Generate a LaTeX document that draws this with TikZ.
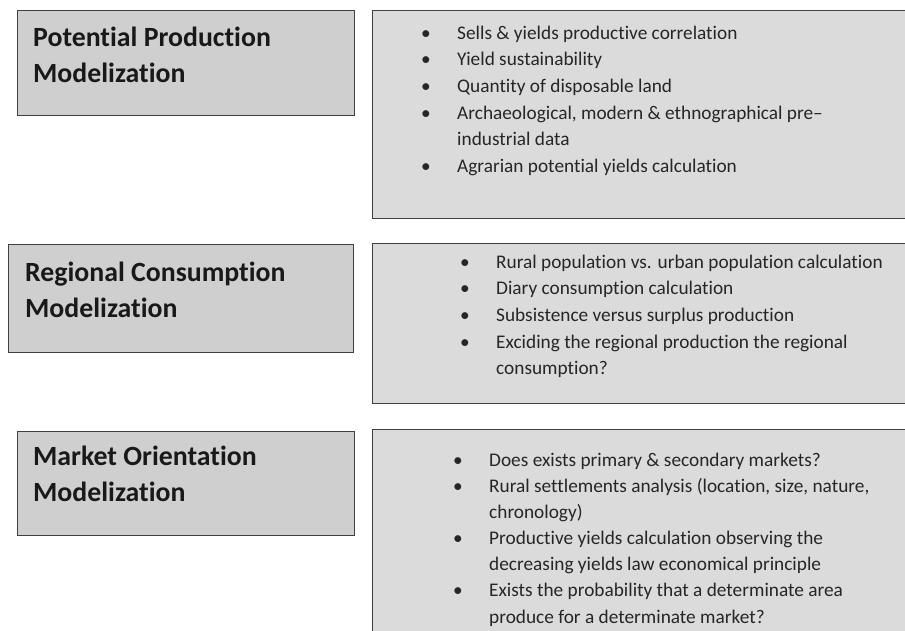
\documentclass[tikz,border=0pt]{standalone}
\usepackage{fontspec}
\setmainfont{Carlito}[Ligatures=NoCommon]
\usepackage{tikz}
\usetikzlibrary{positioning}

\newcommand{\bul}{\makebox[33pt][l]{\kern-3pt\textbullet}}

\begin{document}
\begin{tikzpicture}[x=1pt, y=-1pt,
    headbox/.style={draw=black!75, line width=1.3pt, fill=black!19, anchor=north west, inner sep=0pt},
    listbox/.style={draw=black!75, line width=1.3pt, fill=black!14, anchor=north west, inner sep=0pt},
    headtext/.style={anchor=base west, inner sep=0pt, font=\fontsize{27.8}{36.5}\selectfont\bfseries, text=black!90},
    listtext/.style={anchor=base west, inner sep=0pt, font=\fontsize{19.3}{26.7}\selectfont, text=black!85}]
    % Page frame
    \clip (0,0) rectangle (905,630);
    \fill[white] (0,0) rectangle (905,630);

    % Potential production
    \node[headbox, minimum width=337, minimum height=105] (potential) at (17,10) {};
    \node[listbox, minimum width=560, minimum height=208] (potentialList) at (372,10) {};
    \node[headtext] (potentialHead) at (33,46) {%
      \begin{tabular}[t]{@{}l@{}}Potential Production\\Modelization\end{tabular}};
    \node[listtext] (potentialItems) at (424,39) {%
      \begin{tabular}[t]{@{}l@{}}
      \bul Sells \& yields productive correlation\\
      \bul Yield sustainability\\
      \bul Quantity of disposable land\\
      \bul Archaeological, modern \& ethnographical pre--\\
      \hspace{33pt}industrial data\\
      \bul Agrarian potential yields calculation
      \end{tabular}};

    % Regional consumption
    \node[headbox, minimum width=345, minimum height=108] (regional) at (8,244) {};
    \node[listbox, minimum width=560, minimum height=160] (regionalList) at (372,243) {};
    \node[headtext] (regionalHead) at (25,281) {%
      \begin{tabular}[t]{@{}l@{}}Regional Consumption\\Modelization\end{tabular}};
    \node[listtext] (regionalItems) at (463,268) {%
      \begin{tabular}[t]{@{}l@{}}
      \bul Rural population vs. urban population calculation\\
      \bul Diary consumption calculation\\
      \bul Subsistence versus surplus production\\
      \bul Exciding the regional production the regional\\
      \hspace{33pt}consumption?
      \end{tabular}};

    % Market orientation
    \node[headbox, minimum width=337, minimum height=104] (market) at (17,431) {};
    \node[listbox, minimum width=560, minimum height=220] (marketList) at (372,429) {};
    \node[headtext] (marketHead) at (33,465) {%
      \begin{tabular}[t]{@{}l@{}}Market Orientation\\Modelization\end{tabular}};
    \node[listtext] (marketItems) at (456,466) {%
      \renewcommand{\arraystretch}{0.98}%
      \begin{tabular}[t]{@{}l@{}}
      \bul Does exists primary \& secondary markets?\\
      \bul Rural settlements analysis (location, size, nature,\\
      \hspace{33pt}chronology)\\
      \bul Productive yields calculation observing the\\
      \hspace{33pt}decreasing yields law economical principle\\
      \bul Exists the probability that a determinate area\\
      \hspace{33pt}produce for a determinate market?
      \end{tabular}};
\end{tikzpicture}
\end{document}
